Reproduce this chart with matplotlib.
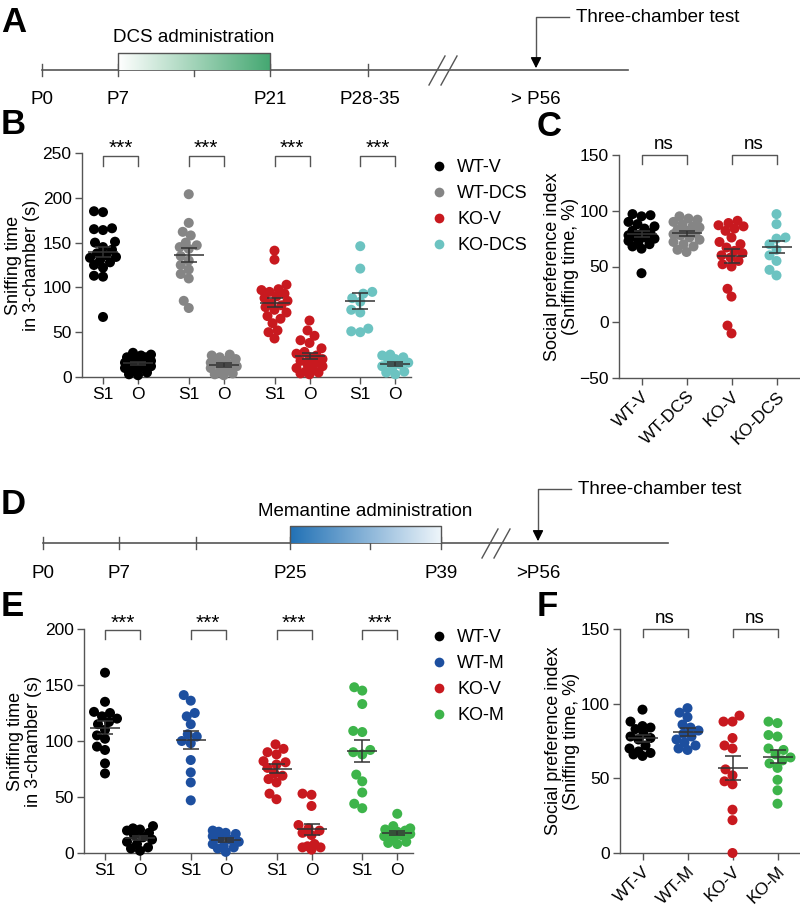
import numpy as np
import matplotlib.pyplot as plt
from matplotlib.lines import Line2D
from matplotlib.colors import LinearSegmentedColormap

plt.rcParams['font.family'] = ['Liberation Sans', 'DejaVu Sans']

# ---- data ----
groups_b = ['WT-V', 'WT-DCS', 'KO-V', 'KO-DCS']
colors_b = ['#000000', '#858585', '#c8191f', '#6cc3c1']
b_s1 = [
    [184, 185, 165, 164, 166, 150, 151, 145, 142, 138, 136, 134, 133, 130, 128, 125, 122, 112, 113, 67],
    [204, 172, 162, 158, 150, 147, 145, 143, 135, 130, 125, 120, 115, 110, 85, 77],
    [141, 131, 103, 98, 97, 95, 93, 90, 88, 85, 82, 80, 78, 75, 72, 68, 65, 60, 52, 50, 43],
    [146, 121, 95, 93, 88, 84, 75, 72, 54, 51, 50],
]
b_o = [
    [25, 27, 24, 22, 20, 18, 17, 15, 14, 12, 10, 8, 5, 3, 2, 22, 19, 16, 13, 11],
    [25, 24, 22, 20, 18, 16, 15, 14, 13, 12, 10, 8, 6, 4, 3, 2],
    [63, 52, 46, 41, 38, 32, 28, 26, 24, 22, 20, 18, 16, 14, 12, 10, 8, 6, 5, 4, 3],
    [25, 24, 22, 20, 18, 16, 14, 12, 10, 6, 5, 3],
]
c_spi = [
    [97, 96, 95, 90, 88, 86, 84, 82, 80, 79, 78, 77, 76, 75, 73, 72, 70, 68, 66, 44],
    [95, 93, 92, 90, 88, 86, 85, 83, 82, 80, 79, 78, 76, 74, 72, 70, 68, 65, 63],
    [91, 89, 87, 86, 84, 82, 76, 72, 70, 67, 64, 62, 60, 58, 55, 52, 50, 30, 23, -3, -10],
    [97, 88, 76, 75, 70, 65, 60, 55, 47, 42],
]

groups_e = ['WT-V', 'WT-M', 'KO-V', 'KO-M']
colors_e = ['#000000', '#1d4f9f', '#c8191f', '#3db44a']
e_s1 = [
    [161, 135, 126, 125, 122, 120, 117, 115, 110, 105, 102, 95, 92, 80, 71],
    [141, 136, 125, 122, 115, 106, 104, 100, 98, 83, 72, 63, 47],
    [97, 93, 90, 88, 82, 81, 79, 76, 71, 69, 66, 63, 53, 48],
    [148, 145, 133, 109, 108, 92, 90, 88, 70, 64, 54, 44, 40],
]
e_o = [
    [24, 22, 21, 20, 18, 16, 14, 12, 10, 8, 5, 4, 2],
    [20, 19, 18, 17, 15, 13, 12, 10, 8, 6, 5, 4, 1],
    [53, 52, 42, 25, 22, 20, 18, 16, 8, 6, 5, 5, 3],
    [35, 24, 22, 21, 20, 19, 18, 17, 16, 15, 12, 10, 9, 8],
]
f_spi = [
    [96, 88, 85, 84, 83, 80, 78, 77, 76, 72, 70, 68, 66, 67, 65],
    [97, 94, 91, 86, 84, 82, 80, 78, 76, 74, 72, 70, 69],
    [92, 88, 88, 77, 72, 70, 56, 52, 48, 46, 29, 22, 0],
    [88, 87, 79, 78, 70, 69, 66, 64, 62, 60, 57, 49, 42, 33],
]
pair_labels = ['S1', 'O']

W, H = 800, 908
fig = plt.figure(figsize=(8, 9.08), dpi=100)
GREY = '#555555'


def fbox(l, t, r, b):
    return [l / W, 1 - b / H, (r - l) / W, (b - t) / H]


def px_scale(ax):
    pos = ax.get_position()
    x0, x1 = ax.get_xlim()
    y0, y1 = ax.get_ylim()
    return pos.width * W / (x1 - x0), pos.height * H / (y1 - y0)


def swarm(ax, vals, xc, diam=10.0, maxw=13):
    # beeswarm-like layout, squeezed to a fixed width like the GraphPad plots
    sx, sy = px_scale(ax)
    vals = np.asarray(vals, float)
    xs = np.zeros(len(vals))
    cands = np.arange(-maxw, maxw + 1, 1.0)
    cands = cands[np.argsort(np.abs(cands) + 0.01 * cands)]
    placed = []
    for i in np.argsort(vals):
        yp = vals[i] * sy
        if placed:
            p = np.array(placed)
            d = np.sqrt((cands[:, None] - p[None, :, 0]) ** 2 + (yp - p[None, :, 1]) ** 2).min(axis=1)
            ok = np.where(d >= diam * 0.85)[0]
            off = cands[ok[0]] if len(ok) else cands[np.argmax(d)]
        else:
            off = 0.0
        placed.append((off, yp))
        xs[i] = xc + off / sx
    return xs


def mean_sem(ax, vals, xc):
    sx, sy = px_scale(ax)
    m = np.mean(vals)
    s = np.std(vals, ddof=1) / np.sqrt(len(vals))
    kw = dict(color='#333333', lw=1.1, zorder=5, solid_capstyle='butt')
    ax.plot([xc - 15 / sx, xc + 15 / sx], [m, m], **kw)
    ax.plot([xc - 8 / sx, xc + 8 / sx], [m + s, m + s], **kw)
    ax.plot([xc - 8 / sx, xc + 8 / sx], [m - s, m - s], **kw)
    ax.plot([xc, xc], [m - s, m + s], **kw)


def bracket(ax, x1, x2, ytop, yleg, text, ytext, fs=12.5):
    ax.plot([x1, x1, x2, x2], [yleg, ytop, ytop, yleg], color=GREY, lw=1, clip_on=False)
    ax.text((x1 + x2) / 2, ytext, text, ha='center', va='center', fontsize=fs, clip_on=False)


def style(ax):
    for side in ['top', 'right']:
        ax.spines[side].set_visible(False)
    for side in ['left', 'bottom']:
        ax.spines[side].set_color(GREY)
        ax.spines[side].set_linewidth(1)
    ax.tick_params(colors=GREY, labelcolor='black', labelsize=12.5, length=5, width=1, pad=2.5)
    ax.set_facecolor('none')


# ---- timelines (pixel coordinate overlay) ----
tl = fig.add_axes([0, 0, 1, 1])
tl.set_xlim(0, W)
tl.set_ylim(H, 0)
tl.axis('off')

a_labels = ['P0', 'P7', 'P21', 'P28-35', '> P56']
a_label_x = [42, 118, 270, 370, 536]
a_ticks = [42, 118, 194, 270, 368]
d_labels = ['P0', 'P7', 'P25', 'P39', '>P56']
d_label_x = [43, 119, 290, 441, 538]
d_ticks = [43, 119, 196, 290, 370, 441]


def timeline(y, x_end, ticks, labels, label_x, box, cmap, box_text, brk, arrow_x, text_y):
    tl.plot([ticks[0], x_end], [y, y], color=GREY, lw=1.2)
    for t in ticks:
        tl.plot([t, t], [y - 6, y + 6], color=GREY, lw=1)
    for lab, lx in zip(labels, label_x):
        tl.text(lx, y + 30, lab, ha='center', va='center', fontsize=13.5)
    grad = np.linspace(0, 1, 256)[None, :]
    tl.imshow(grad, cmap=cmap, extent=[box[0], box[1], y, y - 17], aspect='auto', zorder=2)
    tl.plot([box[0], box[0], box[1], box[1]], [y, y - 17, y - 17, y], color=GREY, lw=1, zorder=3)
    tl.text((box[0] + box[1]) / 2, y - 32, box_text, ha='center', va='center', fontsize=13.5)
    for dx in [0, 12]:
        tl.plot([brk + dx - 8, brk + dx + 8], [y + 15, y - 14], color=GREY, lw=1)
    tl.plot([arrow_x + 33, arrow_x, arrow_x], [text_y, text_y, y - 10], color=GREY, lw=1)
    tl.annotate('', xy=(arrow_x, y + 1), xytext=(arrow_x, y - 12),
                arrowprops=dict(arrowstyle='-|>', color='black', lw=1, mutation_scale=16))
    tl.text(arrow_x + 40, text_y, 'Three-chamber test', ha='left', va='center', fontsize=13.5)


green = LinearSegmentedColormap.from_list('g', ['#ffffff', '#45a872'])
blue = LinearSegmentedColormap.from_list('b', ['#2171b5', '#eef5fa'])
timeline(70, 628, a_ticks, a_labels, a_label_x, (118, 270), green, 'DCS administration', 437, 536, 17)
timeline(543, 668, d_ticks, d_labels, d_label_x, (290, 441), blue, 'Memantine administration', 490, 538, 489)

for letter, lx, ly in [('A', 1, 23), ('B', 1, 125), ('C', 537, 127),
                       ('D', 1, 505), ('E', 1, 607), ('F', 537, 606)]:
    fig.text(lx / W, 1 - ly / H, letter, fontsize=25, fontweight='bold', ha='left', va='center')


# ---- paired sniffing panels ----
def pair_panel(box, s1, o, colors, names, ymax, ystars, legend_top):
    ax = fig.add_axes(box)
    ax.set_xlim(-0.6, 8.8)
    ax.set_ylim(0, ymax)
    style(ax)
    xt, xl = [], []
    for i in range(4):
        x1, x2 = i * 2.45, i * 2.45 + 1
        for xc, vals in [(x1, s1[i]), (x2, o[i])]:
            ax.scatter(swarm(ax, vals, xc), vals, s=52, color=colors[i], edgecolors='none', zorder=3, clip_on=False)
            mean_sem(ax, vals, xc)
        xt += [x1, x2]
        xl += pair_labels
        bracket(ax, x1, x2, ystars[0], ystars[1], '***', ystars[2], fs=15)
    ax.set_xticks(xt)
    ax.set_xticklabels(xl)
    ax.set_yticks(np.arange(0, ymax + 1, 50))
    ax.set_ylabel('Sniffing time\nin 3-chamber (s)', fontsize=13, linespacing=1.1)
    ax.yaxis.set_label_coords(-0.128, 0.5)
    handles = [Line2D([], [], ls='none', marker='o', ms=7, color=c, mec='none') for c in colors]
    fig.legend(handles, names, loc='upper left', bbox_to_anchor=(432 / W, 1 - legend_top / H),
               frameon=False, fontsize=13, handlelength=0.8, handletextpad=0.6,
               labelspacing=0.5, borderpad=0, borderaxespad=0)
    return ax


pair_panel(fbox(82, 153, 411, 377), b_s1, b_o, colors_b, groups_b, 250, (247, 236, 255), 159)
pair_panel(fbox(84, 629, 413, 853), e_s1, e_o, colors_e, groups_e, 200, (199.4, 191, 205), 629)


# ---- social preference panels ----
def spi_panel(box, data, colors, names, ylim, ns):
    ax = fig.add_axes(box)
    ax.set_xlim(-0.5, 3.5)
    ax.set_ylim(*ylim)
    style(ax)
    for i, vals in enumerate(data):
        ax.scatter(swarm(ax, vals, i), vals, s=52, color=colors[i], edgecolors='none', zorder=3, clip_on=False)
        mean_sem(ax, vals, i)
    for a, b in [(0, 1), (2, 3)]:
        bracket(ax, a, b, ns[0], ns[1], 'ns', ns[2], fs=13.5)
    ax.set_xticks(range(4))
    ax.set_xticklabels(names, rotation=45, ha='right', rotation_mode='anchor')
    ax.set_yticks(np.arange(ylim[0], ylim[1] + 1, 50))
    ax.set_ylabel('Social preference index\n(Sniffing time, %)', fontsize=13, linespacing=1.1)
    ax.yaxis.set_label_coords(-0.22, 0.5)
    return ax


spi_panel(fbox(619, 155, 799, 378), c_spi, colors_b, groups_b, (-50, 150), (150, 142, 159))
spi_panel(fbox(620, 629, 800, 853), f_spi, colors_e, groups_e, (0, 150), (150, 144.6, 157))

fig.savefig('out.png', dpi=100)
